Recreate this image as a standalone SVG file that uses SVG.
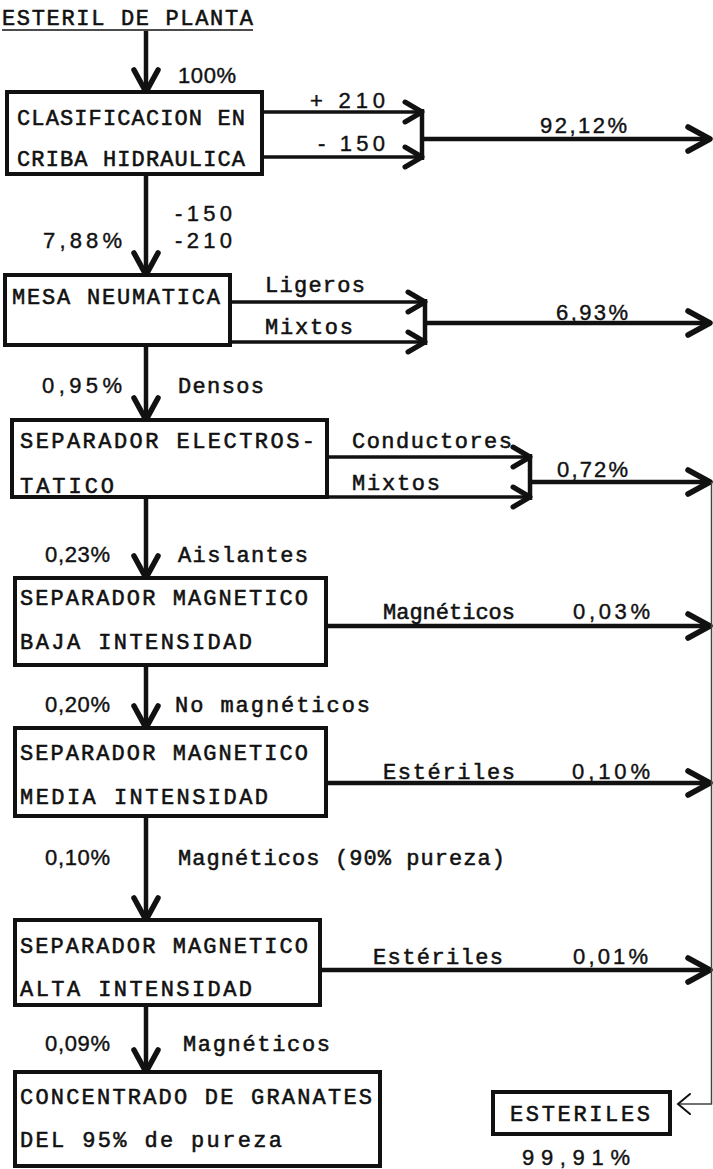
<svg xmlns="http://www.w3.org/2000/svg" width="713" height="1169" viewBox="0 0 713 1169">
<style>
.t{font-family:"Liberation Mono","DejaVu Sans Mono",monospace;font-size:22px;fill:#111;stroke:#111;stroke-width:0.55}
.h{font-family:"Liberation Sans",Arial,sans-serif;font-size:22px;fill:#111;stroke:#111;stroke-width:0.4}
.box{fill:#fff;stroke:#111;stroke-width:4}
.ln{fill:none;stroke:#111;stroke-width:4.5;stroke-linecap:butt}
.lnb{fill:none;stroke:#111;stroke-width:4.5;marker-end:url(#ah)}
.lns{fill:none;stroke:#111;stroke-width:3.5;marker-end:url(#ahs)}
</style>
<defs>
<marker id="ah" viewBox="-30 -16 34 32" refX="0" refY="0" markerWidth="34" markerHeight="32" markerUnits="userSpaceOnUse" orient="auto" overflow="visible">
<path d="M-22,-12 L0,0 L-22,12" fill="none" stroke="#111" stroke-width="5.5" stroke-linecap="round" stroke-linejoin="round"/>
</marker>
<marker id="ahs" viewBox="-24 -14 28 28" refX="0" refY="0" markerWidth="28" markerHeight="28" markerUnits="userSpaceOnUse" orient="auto" overflow="visible">
<path d="M-17,-10 L0,0 L-17,10" fill="none" stroke="#111" stroke-width="5" stroke-linecap="round" stroke-linejoin="round"/>
</marker>
<marker id="aht" viewBox="-16 -12 20 24" refX="0" refY="0" markerWidth="20" markerHeight="24" markerUnits="userSpaceOnUse" orient="auto" overflow="visible">
<path d="M-12,-10 L0,0 L-12,10" fill="none" stroke="#111" stroke-width="2" stroke-linecap="round"/>
</marker>
</defs>

<g id="source">
<text class="t" x="2" y="25" textLength="251" lengthAdjust="spacing">ESTERIL DE PLANTA</text>
<line x1="2" y1="30" x2="253" y2="30" stroke="#111" stroke-width="1.5"/>
</g>

<g id="connectors">
<line class="lnb" x1="146" y1="31" x2="146" y2="92"/>
<line class="lnb" x1="146" y1="174" x2="146" y2="275"/>
<line class="lnb" x1="146" y1="345" x2="146" y2="420"/>
<line class="lnb" x1="146" y1="497" x2="146" y2="578"/>
<line class="lnb" x1="146" y1="665" x2="146" y2="728"/>
<line class="lnb" x1="146" y1="816" x2="146" y2="920"/>
<line class="lnb" x1="146" y1="1005" x2="146" y2="1072"/>
<line class="lns" x1="262" y1="112" x2="422" y2="112"/>
<line class="lns" x1="262" y1="157" x2="422" y2="157"/>
<line class="ln" x1="422" y1="109" x2="422" y2="160"/>
<line class="lnb" x1="422" y1="139" x2="710" y2="139"/>
<line class="lns" x1="230" y1="302" x2="425" y2="302"/>
<line class="lns" x1="230" y1="342" x2="425" y2="342"/>
<line class="ln" x1="425" y1="299" x2="425" y2="345"/>
<line class="lnb" x1="425" y1="323" x2="710" y2="323"/>
<line class="lns" x1="327" y1="457" x2="530" y2="457"/>
<line class="lns" x1="327" y1="497" x2="530" y2="497"/>
<line class="ln" x1="530" y1="454" x2="530" y2="500"/>
<line class="lnb" x1="530" y1="482" x2="710" y2="482"/>
<line class="lnb" x1="326" y1="626" x2="710" y2="626"/>
<line class="lnb" x1="326" y1="783" x2="710" y2="783"/>
<line class="lnb" x1="320" y1="970" x2="710" y2="970"/>
<polyline fill="none" stroke="#444" stroke-width="1.5" points="711.5,482 711.5,1104 678,1104" marker-end="url(#aht)"/>
</g>

<g id="n1">
<rect class="box" x="7" y="92" width="255" height="82"/>
<text class="t" x="17" y="125" textLength="228" lengthAdjust="spacing">CLASIFICACION EN</text>
<text class="t" x="17" y="166" textLength="228" lengthAdjust="spacing">CRIBA HIDRAULICA</text>
</g>
<g id="n2">
<rect class="box" x="5" y="275" width="225" height="70"/>
<text class="t" x="12" y="304" textLength="208" lengthAdjust="spacing">MESA NEUMATICA</text>
</g>
<g id="n3">
<rect class="box" x="12" y="420" width="315" height="77"/>
<text class="t" x="20" y="448" textLength="295" lengthAdjust="spacing">SEPARADOR ELECTROS-</text>
<text class="t" x="20" y="493" textLength="94" lengthAdjust="spacing">TATICO</text>
</g>
<g id="n4">
<rect class="box" x="15" y="578" width="311" height="87"/>
<text class="t" x="20" y="605" textLength="288" lengthAdjust="spacing">SEPARADOR MAGNETICO</text>
<text class="t" x="20" y="649" textLength="232" lengthAdjust="spacing">BAJA INTENSIDAD</text>
</g>
<g id="n5">
<rect class="box" x="15" y="728" width="311" height="88"/>
<text class="t" x="20" y="760" textLength="288" lengthAdjust="spacing">SEPARADOR MAGNETICO</text>
<text class="t" x="20" y="804" textLength="248" lengthAdjust="spacing">MEDIA INTENSIDAD</text>
</g>
<g id="n6">
<rect class="box" x="15" y="920" width="305" height="85"/>
<text class="t" x="20" y="953" textLength="288" lengthAdjust="spacing">SEPARADOR MAGNETICO</text>
<text class="t" x="20" y="996" textLength="232" lengthAdjust="spacing">ALTA INTENSIDAD</text>
</g>
<g id="n7">
<rect class="box" x="15" y="1072" width="365" height="94"/>
<text class="t" x="20" y="1104" textLength="352" lengthAdjust="spacing">CONCENTRADO DE GRANATES</text>
<text class="t" x="20" y="1147" textLength="262" lengthAdjust="spacing">DEL 95% de pureza</text>
</g>
<g id="n8">
<rect class="box" x="493" y="1092" width="177" height="42"/>
<text class="t" x="510" y="1121" textLength="140" lengthAdjust="spacing">ESTERILES</text>
<text class="h" x="522" y="1165" textLength="108" lengthAdjust="spacing">99,91%</text>
</g>

<g id="labels">
<text class="h" x="178" y="83" textLength="58" lengthAdjust="spacing">100%</text>
<text class="h" x="310" y="108" textLength="75" lengthAdjust="spacing">+ 210</text>
<text class="h" x="318" y="151" textLength="67" lengthAdjust="spacing">- 150</text>
<text class="h" x="540" y="133" textLength="87" lengthAdjust="spacing">92,12%</text>
<text class="h" x="175" y="221" textLength="57" lengthAdjust="spacing">-150</text>
<text class="h" x="175" y="248" textLength="57" lengthAdjust="spacing">-210</text>
<text class="h" x="43" y="248" textLength="79" lengthAdjust="spacing">7,88%</text>
<text class="t" x="265" y="292" textLength="100" lengthAdjust="spacing">Ligeros</text>
<text class="t" x="265" y="334" textLength="88" lengthAdjust="spacing">Mixtos</text>
<text class="h" x="556" y="320" textLength="72" lengthAdjust="spacing">6,93%</text>
<text class="h" x="42" y="393" textLength="80" lengthAdjust="spacing">0,95%</text>
<text class="t" x="178" y="393" textLength="86" lengthAdjust="spacing">Densos</text>
<text class="t" x="352" y="448" textLength="160" lengthAdjust="spacing">Conductores</text>
<text class="t" x="352" y="490" textLength="88" lengthAdjust="spacing">Mixtos</text>
<text class="h" x="557" y="477" textLength="71" lengthAdjust="spacing">0,72%</text>
<text class="h" x="45" y="562" textLength="65" lengthAdjust="spacing">0,23%</text>
<text class="t" x="178" y="562" textLength="130" lengthAdjust="spacing">Aislantes</text>
<text class="t" x="383" y="619" textLength="132" lengthAdjust="spacing">Magnéticos</text>
<text class="h" x="573" y="619" textLength="77" lengthAdjust="spacing">0,03%</text>
<text class="h" x="45" y="712" textLength="65" lengthAdjust="spacing">0,20%</text>
<text class="t" x="175" y="712" textLength="195" lengthAdjust="spacing">No magnéticos</text>
<text class="t" x="383" y="779" textLength="132" lengthAdjust="spacing">Estériles</text>
<text class="h" x="572" y="779" textLength="78" lengthAdjust="spacing">0,10%</text>
<text class="h" x="45" y="865" textLength="65" lengthAdjust="spacing">0,10%</text>
<text class="t" x="178" y="865" textLength="327" lengthAdjust="spacing">Magnéticos (90% pureza)</text>
<text class="t" x="373" y="964" textLength="130" lengthAdjust="spacing">Estériles</text>
<text class="h" x="573" y="964" textLength="75" lengthAdjust="spacing">0,01%</text>
<text class="h" x="45" y="1051" textLength="65" lengthAdjust="spacing">0,09%</text>
<text class="t" x="183" y="1051" textLength="147" lengthAdjust="spacing">Magnéticos</text>
</g>
</svg>
